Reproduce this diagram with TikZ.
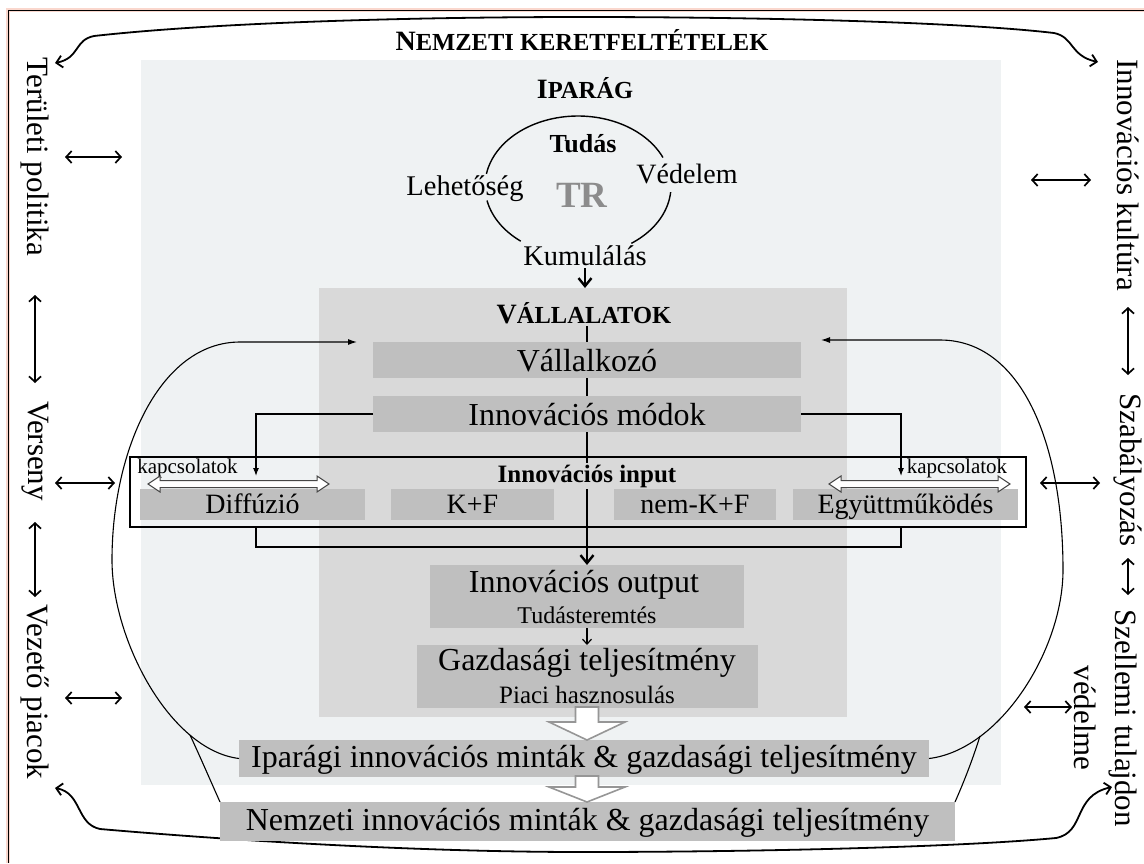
\documentclass[tikz,border=0pt]{standalone}
\usepackage{fontspec}
\setmainfont{Liberation Serif}
\usetikzlibrary{arrows.meta,calc}
\definecolor{ibg}{RGB}{239,242,243}
\definecolor{vbg}{RGB}{217,217,217}
\definecolor{bxg}{RGB}{191,191,191}
\definecolor{trg}{RGB}{140,140,140}
\definecolor{hol}{RGB}{150,150,150}
\definecolor{dk}{RGB}{70,70,70}
\definecolor{halo}{RGB}{250,215,205}
\newcommand\fsz[1]{\fontsize{#1}{#1}\selectfont}
\newcommand\smc[2]{{\fsz{28}#1}{\fsz{24.5}#2}}
\pgfdeclarelayer{back}
\pgfdeclarelayer{mid}
\pgfsetlayers{back,mid,main}
\begin{document}
\begin{tikzpicture}[x=1pt,y=-1pt,
  every node/.style={inner sep=0pt,outer sep=0pt},
  box/.style={fill=bxg,text height=26pt,text depth=4pt,font=\fsz{32}},
  ibox/.style={fill=bxg,minimum width=#1,minimum height=31pt,text height=22pt,text depth=5pt,font=\fsz{28}},
  tbox/.style={fill=bxg,text height=24pt,text depth=7pt,font=\fsz{32}},
  lbl/.style={anchor=base,font=\fsz{#1}},
  side/.style={rotate=-90,font=\fsz{31}},
  thk/.style={line width=2.4pt,-{Straight Barb[length=8pt,width=13pt]}},
  dbl/.style={line width=1.7pt,{Straight Barb[length=5.5pt,width=12pt]}-{Straight Barb[length=5.5pt,width=12pt]}},
  brace/.style={line width=1.8pt,{Straight Barb[length=6pt,width=12pt]}-{Straight Barb[length=6pt,width=12pt]}},
  curv/.style={line width=1.1pt,-{Latex[length=9pt,width=6pt]}},
  thinl/.style={line width=1.1pt},
  hollow/.style={draw=hol,line width=1.6pt,fill=white,line join=miter},
  kdbl/.style={draw=dk,line width=1pt,fill=white}]
\useasboundingbox (0,0) rectangle (1144,863);
\begin{pgfonlayer}{back}
  \fill[white] (0,0) rectangle (1144,863);
  \node[fill=ibg,minimum width=860pt,minimum height=725pt] (ipar) at (571,422.5) {};
  \node[fill=vbg,minimum width=528pt,minimum height=429pt] (valla) at (583,502.5) {};
\end{pgfonlayer}
% outer frame (open to the right and bottom)
\draw[halo,line width=3.5pt] (8,863) -- (8,10) -- (1144,10);
\draw[line width=1pt] (8,863) -- (8,10) -- (1144,10);

% titles
\node[anchor=base,font=\bfseries] (nk) at (582,50) {\smc{N}{EMZETI KERETFELTÉTELEK}};
\node[anchor=base,font=\bfseries] (ipt) at (585,98) {\smc{I}{PARÁG}};
\node[anchor=base,font=\bfseries] (vt) at (584,323) {\smc{V}{ÁLLALATOK}};

% braces
\coordinate (tl) at (55,63);
\coordinate (tr) at (1098,62);
\draw[brace] (tl) .. controls (80,58) and (74,40) .. (94,36) .. controls (220,22) and (420,17) .. (582,17) .. controls (760,17) and (960,22) .. (1054,33) .. controls (1074,37) and (1070,56) .. (tr);
\coordinate (bl) at (55,788);
\coordinate (br) at (1112,787);
\draw[brace] (bl) .. controls (82,793) and (76,824) .. (100,829) .. controls (250,842) and (430,852) .. (582,852) .. controls (760,852) and (960,847) .. (1056,838) .. controls (1086,832) and (1072,796) .. (br);

% technology regime circle
\draw[line width=1.4pt] plot[domain=190:336,samples=60] ({578+93*cos(\x)},{186+70*sin(\x)});
\draw[line width=1.4pt] plot[domain=5:55,samples=30] ({578+93*cos(\x)},{186+70*sin(\x)});
\draw[line width=1.4pt] plot[domain=128:168,samples=30] ({578+93*cos(\x)},{186+70*sin(\x)});
\node[anchor=base,font=\bfseries\fsz{26}] (tud) at (583,152) {Tudás};
\node[anchor=base,font=\bfseries\fsz{37},text=trg] (tr) at (582,207) {TR};
\node[lbl=28.5] (leh) at (465,195) {Lehetőség};
\node[lbl=28] (ved) at (687,183) {Védelem};
\node[lbl=28.5] (kum) at (585,265) {Kumulálás};
\draw[thk,shorten <=3pt] (kum.south) -- (kum.south |- valla.north);

% firm boxes
\node[box,minimum width=428pt,minimum height=36pt] (vk) at (587,360) {Vállalkozó};
\node[box,minimum width=428pt,minimum height=36pt] (im) at (587,414) {Innovációs módok};
\node[fill=bxg,minimum width=314pt,minimum height=63pt] (out) at (587,596.5) {};
\node[lbl=32] (outa) at ($(out.north)+(-3,27)$) {Innovációs output};
\node[lbl=24] (outb) at ($(out.north)+(0,58)$) {Tudásteremtés};
\node[fill=bxg,minimum width=341pt,minimum height=63pt] (gz) at (587,676.5) {};
\node[lbl=32] (gza) at ($(gz.north)+(0,25)$) {Gazdasági teljesítmény};
\node[lbl=25] (gzb) at ($(gz.north)+(0,58)$) {Piaci hasznosulás};
\node[tbox,minimum width=690pt,minimum height=37pt] (ipb) at (584,758.5) {Iparági innovációs minták \& gazdasági teljesítmény};
\node[tbox,minimum width=735pt,minimum height=39pt] (nb) at (587.5,821.5) {Nemzeti innovációs minták \& gazdasági teljesítmény};

% central flow line
\begin{pgfonlayer}{mid}
  \draw[thk,shorten <=3pt] (vt.south -| out.north) -- (out.north);
\end{pgfonlayer}

% innovation input
\node[ibox=225pt] (dif) at (252.5,504.5) {Diffúzió};
\node[ibox=163pt] (kf) at (472.5,504.5) {K+F};
\node[ibox=162pt] (nkf) at (695,504.5) {nem-K+F};
\node[ibox=225pt] (egy) at (905.5,504.5) {Együttműködés};
\node[draw,line width=1.8pt,minimum width=896pt,minimum height=70pt] (inp) at (578,492) {};
\node[anchor=base,font=\bfseries\fsz{25},fill=vbg,inner xsep=3pt,inner ysep=2pt] (inl) at (587,482) {Innovációs input};
\node[lbl=21] (kapl) at (187.5,473) {kapcsolatok};
\node[lbl=21] (kapr) at (957,473) {kapcsolatok};
\draw[kdbl] (148,484) -- (160,476) -- (160,480.5) -- (317,480.5) -- (317,476) -- (329,484) -- (317,492) -- (317,487.5) -- (160,487.5) -- (160,492) -- cycle;
\draw[kdbl] (829,484) -- (841,476) -- (841,480.5) -- (998,480.5) -- (998,476) -- (1010,484) -- (998,492) -- (998,487.5) -- (841,487.5) -- (841,492) -- cycle;
\coordinate (kla) at (256,476);
\coordinate (kra) at (901,476);
\draw[thinl,-{Latex[length=8pt,width=6pt]}] (im.west) -| (kla);
\draw[thinl,-{Latex[length=8pt,width=6pt]}] (im.east) -| (kra);
\draw[thinl] (inp.south -| kla) -- ++(0,20) -| (inp.south -| kra);

% small arrow and hollow block arrows
\draw[line width=1.2pt,-{Straight Barb[length=5pt,width=9pt]}] (out.south) -- (out.south |- gz.north);
\draw[hollow] ($(gz.south)+(-11.5,-1)$) -- ($(gz.south)+(11.5,-1)$) -- ($(gz.south)+(11.5,14)$) -- ($(gz.south)+(38,14)$) -- (gz.south |- ipb.north) -- ($(gz.south)+(-38,14)$) -- ($(gz.south)+(-11.5,14)$) -- cycle;
\draw[hollow] ($(gz.south |- ipb.south)+(-11.5,-1)$) -- ($(gz.south |- ipb.south)+(11.5,-1)$) -- ($(gz.south |- ipb.south)+(11.5,10)$) -- ($(gz.south |- ipb.south)+(38,10)$) -- (gz.south |- nb.north) -- ($(gz.south |- ipb.south)+(-38,10)$) -- ($(gz.south |- ipb.south)+(-11.5,10)$) -- cycle;

% feedback curves
\coordinate (lt) at (357,342);
\coordinate (rt) at (821,340);
\coordinate (ljn) at (190,735);
\coordinate (rjn) at (980,736);
\draw[curv] (ipb.west) .. controls (170,750) and (112,640) .. (112,560) .. controls (112,450) and (160,342) .. (240,342) -- (lt);
\draw[curv] (ipb.east) .. controls (1000,750) and (1063,650) .. (1063,570) .. controls (1063,440) and (1020,340) .. (940,340) -- (rt);
\draw[thinl] (nb.north west) .. controls (208,775) and (198,752) .. (ljn);
\draw[thinl] (nb.north east) .. controls (967,775) and (975,752) .. (rjn);

% side labels
\node[side] (terpol) at (35,157) {Területi politika};
\node[side] (verseny) at (35,451) {Verseny};
\node[side] (vezeto) at (35,692) {Vezető piacok};
\node[side] (innkult) at (1128,175) {Innovációs kultúra};
\node[side] (szab) at (1128,470) {Szabályozás};
\node[rotate=-90,align=center,font=\fontsize{31}{41}\selectfont] (szell) at (1106,718) {Szellemi tulajdon\\védelme};

% side arrows
\coordinate (a1) at (65,157);  \coordinate (a2) at (122,157);
\coordinate (a3) at (55,483);  \coordinate (a4) at (115,483);
\coordinate (a5) at (65,698);  \coordinate (a6) at (122,698);
\coordinate (b1) at (1031,180); \coordinate (b2) at (1091,180);
\coordinate (b3) at (1040,483); \coordinate (b4) at (1100,483);
\coordinate (b5) at (1024,707); \coordinate (b6) at (1072,707);
\coordinate (c1) at (35,295);  \coordinate (c2) at (35,383);
\coordinate (c3) at (35,522);  \coordinate (c4) at (35,597);
\coordinate (d1) at (1128,307); \coordinate (d2) at (1128,375);
\coordinate (d3) at (1128,558); \coordinate (d4) at (1128,595);
\draw[dbl] (a1) -- (a2);
\draw[dbl] (a3) -- (a4);
\draw[dbl] (a5) -- (a6);
\draw[dbl] (b1) -- (b2);
\draw[dbl] (b3) -- (b4);
\draw[dbl] (b5) -- (b6);
\draw[dbl] (c1) -- (c2);
\draw[dbl] (c3) -- (c4);
\draw[dbl] (d1) -- (d2);
\draw[dbl] (d3) -- (d4);
\end{tikzpicture}
\end{document}
